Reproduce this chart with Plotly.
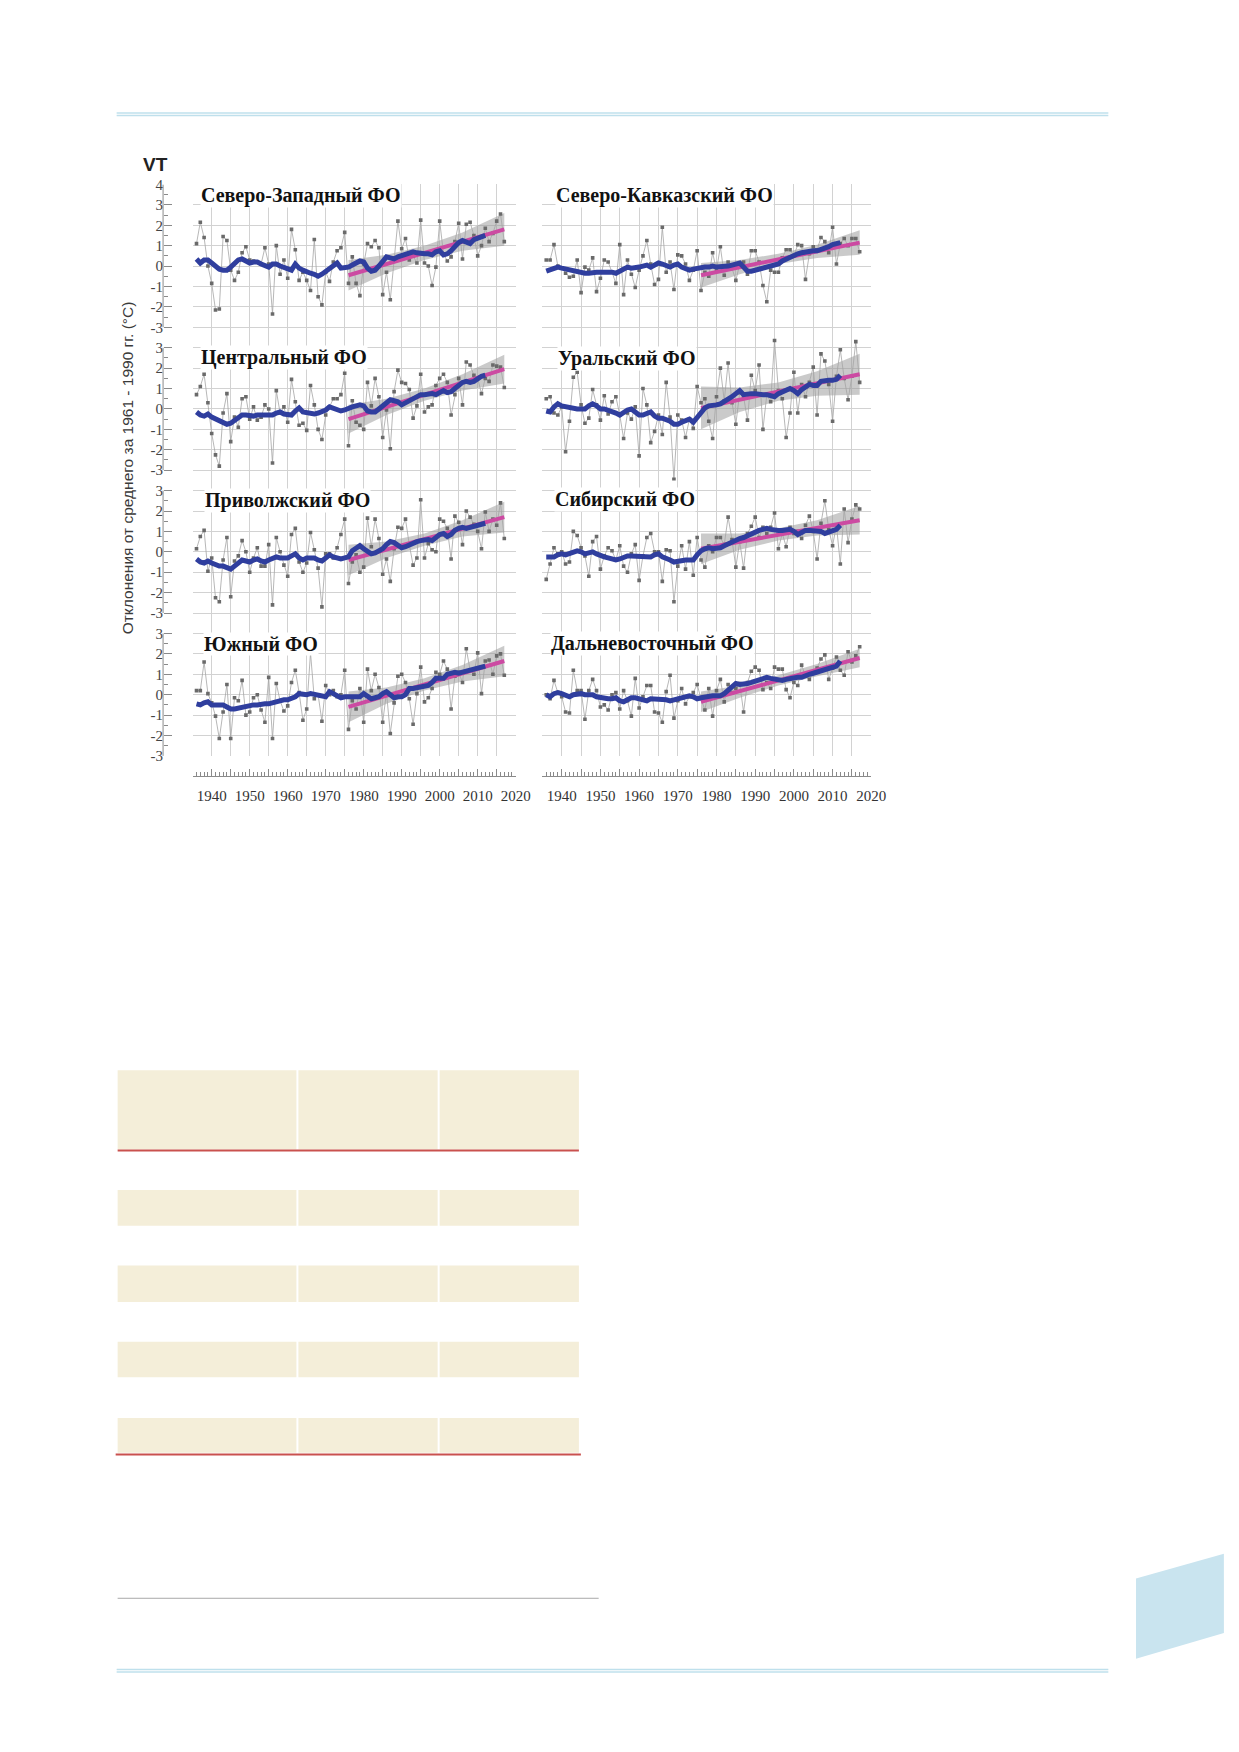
import plotly.graph_objects as go

# the page is 1239x1752; the browser keeps its default 8px body margin,
# so the figure itself is 16px smaller and every page position is shifted by 8
W, H = 1239, 1752
PAD = 8
FW, FH = W - 2 * PAD, H - 2 * PAD

years = list(range(1936, 2018))
smooth_years = list(range(1936, 2013))
trend_years = [1976, 2017]
band_years = [1976, 1986, 1996, 2006, 2017]
decade_ticks = list(range(1935, 2021, 5))
year_ticks = [y for y in range(1935, 2021) if y % 5]

titles = ["Северо-Западный ФО", "Центральный ФО", "Приволжский ФО", "Южный ФО",
          "Северо-Кавказский ФО", "Уральский ФО", "Сибирский ФО", "Дальневосточный ФО"]

# yearly anomalies, smoothed curve, linear trend 1976-2017 and its band
nw_anom = [1.1, 2.15, 1.4, 0.0, -0.85, -2.15, -2.1, 1.45, 1.25, -0.2,
           -0.7, -0.3, 0.65, 0.95, 0.3, 0.25, 0.2, 0.1, 0.9, 0.1,
           -2.35, 1.0, -0.4, 0.3, -0.6, 1.8, 0.8, -0.7, -0.3, -0.7,
           -1.2, 1.3, -1.5, -1.9, -0.3, -0.75, 0.2, 0.75, 0.9, 1.65,
           -0.85, 0.45, -0.85, -1.45, 0.1, 1.1, 0.95, 1.25, 0.9, -1.4,
           -0.3, -1.65, 0.4, 2.2, 0.85, 1.35, 0.3, 0.5, 0.15, 2.25,
           0.15, 0.0, -0.95, -0.05, 2.2, 0.6, 0.25, 0.45, 1.2, 2.1,
           0.35, 2.05, 2.15, 1.5, 0.5, 1.0, 1.85, 1.2, 1.6, 2.2,
           2.55, 1.2]
nw_smooth = [0.35, 0.15, 0.3, 0.3, 0.15, 0.0, -0.15, -0.2, -0.2, -0.05,
             0.15, 0.3, 0.35, 0.25, 0.15, 0.2, 0.2, 0.1, 0.05, -0.05,
             0.1, 0.1, 0.0, -0.05, -0.15, -0.2, 0.1, -0.1, -0.2, -0.3,
             -0.35, -0.4, -0.5, -0.4, -0.25, -0.1, 0.05, 0.15, -0.1, -0.1,
             -0.05, 0.05, 0.15, 0.25, 0.2, -0.1, -0.25, -0.2, 0.0, 0.25,
             0.45, 0.4, 0.35, 0.45, 0.5, 0.55, 0.6, 0.7, 0.65, 0.6,
             0.6, 0.6, 0.55, 0.7, 0.75, 0.55, 0.6, 0.75, 0.95, 1.15,
             1.25, 1.15, 1.1, 1.3, 1.35, 1.4, 1.5]
nw_trend = [-0.45, 1.8]
nw_band_hi = [0.3, 0.55, 1.0, 1.65, 2.6]
nw_band_lo = [-1.2, -0.35, 0.3, 0.75, 1.0]

cen_anom = [0.7, 1.1, 1.7, 0.3, -1.2, -2.25, -2.8, -0.2, 0.75, -1.6,
            -0.4, -0.9, 0.5, 0.6, -0.5, 0.1, -0.55, -0.4, 0.2, 0.0,
            -2.65, 0.9, -0.2, 0.1, -0.65, 1.45, 0.35, -0.8, -0.7, -1.05,
            1.15, 0.2, -1.0, -1.5, -0.3, 0.1, 0.5, 0.5, 0.7, 1.75,
            -1.8, 0.4, -0.65, -0.8, -1.0, 1.3, 0.15, 1.5, 0.6, -1.4,
            -0.05, -1.95, 0.85, 1.9, 1.3, 1.25, 0.95, -0.45, 0.15, 1.7,
            -0.15, 0.1, 0.2, 1.15, 1.5, 1.7, 1.3, -0.3, 0.7, 1.5,
            0.2, 2.3, 2.15, 1.65, 1.5, 0.75, 1.5, 1.35, 2.15, 2.1,
            2.05, 1.05]
cen_smooth = [-0.15, -0.3, -0.35, -0.25, -0.4, -0.5, -0.6, -0.7, -0.75, -0.7,
              -0.55, -0.4, -0.3, -0.3, -0.35, -0.35, -0.3, -0.3, -0.35, -0.35,
              -0.3, -0.2, -0.15, -0.25, -0.3, -0.3, -0.1, 0.05, -0.15, -0.2,
              -0.25, -0.25, -0.2, -0.15, -0.05, 0.1, 0.05, -0.05, -0.1, -0.05,
              0.05, 0.1, 0.15, 0.2, 0.15, -0.1, -0.15, -0.15, 0.0, 0.15,
              0.35, 0.45, 0.4, 0.35, 0.2, 0.3, 0.4, 0.5, 0.6, 0.7,
              0.7, 0.75, 0.75, 0.7, 0.8, 0.9, 0.8, 0.85, 1.0, 1.15,
              1.3, 1.35, 1.3, 1.35, 1.5, 1.6, 1.65]
cen_trend = [-0.5, 1.95]
cen_band_hi = [0.2, 0.5, 1.0, 1.7, 2.65]
cen_band_lo = [-1.2, -0.3, 0.4, 0.9, 1.25]

vol_anom = [0.15, 0.75, 1.05, -0.95, -0.3, -2.25, -2.45, -0.4, 0.7, -2.2,
            -0.45, -0.2, 0.55, 0.0, -1.0, -0.3, 0.2, -0.7, -0.7, 0.35,
            -2.6, 0.7, 0.0, -0.65, -1.2, 0.85, 1.15, -0.5, -1.0, -0.55,
            0.95, 0.1, -0.8, -2.7, -0.1, -0.1, -0.3, 0.2, 0.85, 1.6,
            -1.55, -0.5, -0.15, -1.0, -0.75, 1.65, 0.25, 1.6, 0.65, -1.1,
            -0.35, -1.45, 0.15, 1.2, 1.15, 1.6, 0.35, -0.65, -0.3, 2.55,
            -0.3, 0.4, 0.1, 0.0, 1.6, 1.5, 1.15, -0.35, 1.75, 1.45,
            0.35, 2.0, 1.7, 1.35, 1.0, 0.15, 1.95, 1.0, 1.6, 1.3,
            2.4, 0.65]
vol_smooth = [-0.35, -0.5, -0.55, -0.45, -0.55, -0.65, -0.7, -0.7, -0.8, -0.85,
              -0.7, -0.55, -0.4, -0.45, -0.5, -0.4, -0.35, -0.45, -0.5, -0.4,
              -0.3, -0.25, -0.3, -0.3, -0.3, -0.2, -0.1, -0.3, -0.4, -0.3,
              -0.3, -0.3, -0.4, -0.45, -0.3, -0.15, -0.25, -0.3, -0.35, -0.3,
              -0.25, 0.05, 0.2, 0.3, 0.15, 0.0, -0.1, -0.05, 0.05, 0.15,
              0.35, 0.5, 0.45, 0.35, 0.2, 0.25, 0.35, 0.4, 0.5, 0.55,
              0.6, 0.6, 0.55, 0.7, 0.85, 0.9, 0.75, 0.85, 1.05, 1.15,
              1.2, 1.15, 1.2, 1.25, 1.3, 1.35, 1.4]
vol_trend = [-0.4, 1.7]
vol_band_hi = [0.35, 0.5, 0.9, 1.55, 2.45]
vol_band_lo = [-1.15, -0.3, 0.3, 0.75, 0.95]

sou_anom = [0.2, 0.2, 1.6, 0.05, -0.4, -1.05, -2.15, -0.85, 0.5, -2.15,
            -0.15, -0.3, 0.7, -1.0, -0.85, -0.15, 0.0, -0.75, -1.35, 0.85,
            -2.15, 0.55, -0.3, -0.8, -0.55, 0.6, 1.2, 0.1, -1.25, -0.7,
            2.05, -0.2, 0.0, -1.3, 0.45, 0.0, 0.2, -0.1, 0.0, 1.2,
            -1.7, -0.3, -0.7, 0.3, -1.35, 1.25, 0.2, 1.0, 0.35, -1.35,
            0.1, -1.9, -0.4, 0.9, 1.0, 0.6, -0.2, -1.45, 0.05, 1.35,
            -0.35, -0.15, 0.3, 1.1, 1.0, 1.65, 1.25, -0.7, 0.9, 1.1,
            0.6, 2.25, 1.2, 1.0, 2.05, 0.05, 1.65, 1.7, 1.0, 1.9,
            2.0, 0.95]
sou_smooth = [-0.45, -0.5, -0.4, -0.35, -0.5, -0.5, -0.5, -0.5, -0.6, -0.7,
              -0.7, -0.65, -0.6, -0.55, -0.5, -0.5, -0.5, -0.45, -0.45, -0.45,
              -0.4, -0.3, -0.25, -0.25, -0.25, -0.2, -0.1, 0.05, 0.0, 0.0,
              0.05, 0.0, 0.0, -0.1, -0.1, 0.15, 0.05, -0.1, -0.15, -0.1,
              -0.1, -0.05, -0.05, -0.1, 0.05, -0.1, -0.2, -0.15, -0.1, 0.05,
              0.15, 0.0, -0.15, -0.1, -0.1, 0.0, 0.3, 0.3, 0.35, 0.4,
              0.4, 0.45, 0.6, 0.8, 0.8, 0.8, 1.0, 1.05, 1.1, 1.05,
              1.1, 1.15, 1.15, 1.2, 1.3, 1.35, 1.4]
sou_trend = [-0.6, 1.65]
sou_band_hi = [0.15, 0.35, 0.8, 1.45, 2.4]
sou_band_lo = [-1.35, -0.45, 0.2, 0.65, 0.9]

nc_anom = [0.3, 0.3, 1.05, 0.0, -0.1, -0.35, -0.55, -0.5, 0.3, -1.3,
           -0.05, -0.2, 0.4, -1.25, -0.6, 0.3, 0.2, -0.3, -0.85, 1.05,
           -1.4, 0.3, -0.4, -1.05, -0.2, 0.5, 1.25, 0.1, -0.9, -0.65,
           1.9, -0.3, 0.2, -1.15, 0.55, 0.5, 0.1, -0.7, -0.2, 0.75,
           -1.2, -0.3, -0.5, 0.65, -0.2, 0.95, -0.45, 0.2, -0.1, -0.7,
           0.1, 0.2, -0.4, 0.75, 0.75, 0.2, -0.95, -1.75, -0.2, -0.3,
           -0.3, 0.4, 0.8, 0.8, 0.5, 1.05, 1.0, -0.65, 0.6, 0.95,
           0.8, 1.4, 1.2, 0.65, 1.9, 0.1, 1.1, 1.35, 1.0, 1.35,
           1.35, 0.7]
nc_smooth = [-0.25, -0.2, -0.1, -0.05, -0.1, -0.15, -0.2, -0.2, -0.25, -0.35,
             -0.35, -0.35, -0.3, -0.3, -0.3, -0.3, -0.25, -0.3, -0.35, -0.25,
             -0.15, -0.05, -0.1, -0.1, -0.05, 0.0, 0.05, -0.05, 0.05, 0.15,
             0.1, 0.05, -0.05, 0.05, 0.1, -0.05, -0.15, -0.2, -0.15, -0.1,
             -0.05, -0.05, -0.05, 0.0, -0.05, -0.05, 0.0, 0.0, 0.05, 0.1,
             0.15, -0.05, -0.25, -0.25, -0.2, -0.15, -0.1, -0.05, 0.0, 0.05,
             0.1, 0.25, 0.35, 0.45, 0.55, 0.6, 0.65, 0.7, 0.75, 0.75,
             0.75, 0.8, 0.9, 0.95, 1.05, 1.1, 1.15]
nc_trend = [-0.45, 1.15]
nc_band_hi = [0.15, 0.3, 0.6, 1.05, 1.75]
nc_band_lo = [-1.05, -0.4, 0.1, 0.4, 0.55]

ur_anom = [0.5, 0.6, -0.2, -0.3, 0.1, -2.1, -0.6, 1.55, 1.8, 0.2,
           -0.7, -0.45, 0.95, 0.2, -0.55, 0.65, -0.25, 0.35, 0.6, -0.3,
           -1.45, -0.2, -0.5, 0.1, -2.3, 1.0, 0.2, -1.65, -1.1, -0.3,
           -1.25, 1.3, -0.4, -3.45, -0.3, -0.55, -1.4, -0.5, -0.95, 1.1,
           0.3, 0.5, -0.6, -1.45, 0.6, 2.0, 0.4, 2.25, 0.3, -0.75,
           0.8, 0.6, -0.55, 1.65, 0.9, 2.15, -1.0, 0.7, 0.35, 3.35,
           0.9, 0.5, -1.4, -0.2, 1.8, -0.2, 1.2, 0.6, 1.3, 2.05,
           -0.3, 2.7, 2.35, 1.2, -0.6, 1.6, 2.9, 1.5, 0.45, 1.6,
           3.3, 1.3]
ur_smooth = [-0.1, -0.15, 0.1, 0.25, 0.15, 0.1, 0.05, 0.05, 0.0, 0.0,
             0.0, 0.15, 0.25, 0.15, 0.0, 0.0, -0.05, -0.1, -0.2, -0.3,
             -0.15, -0.05, 0.0, -0.15, -0.3, -0.3, -0.2, -0.15, -0.35, -0.45,
             -0.45, -0.5, -0.6, -0.75, -0.75, -0.65, -0.55, -0.5, -0.65, -0.4,
             -0.1, 0.05, 0.15, 0.15, 0.2, 0.25, 0.35, 0.45, 0.6, 0.75,
             0.9, 0.7, 0.75, 0.75, 0.75, 0.7, 0.7, 0.7, 0.65, 0.6,
             0.75, 0.85, 0.95, 1.0, 0.9, 0.75, 0.95, 1.1, 1.2, 1.15,
             1.15, 1.35, 1.4, 1.4, 1.4, 1.45, 1.65]
ur_trend = [0.05, 1.7]
ur_band_hi = [1.1, 1.05, 1.3, 1.85, 2.7]
ur_band_lo = [-1.0, -0.15, 0.4, 0.65, 0.7]

sib_anom = [-1.35, -0.6, 0.2, -0.1, 0.0, -0.6, -0.5, 1.0, 0.8, 0.2,
            -0.2, -1.2, 0.5, 0.75, -0.85, -0.2, 0.2, 0.05, -0.4, 0.3,
            -0.7, -1.0, -0.1, 0.35, -1.4, -0.2, 0.7, 0.9, 0.0, 0.0,
            -1.45, 0.1, 0.05, -2.45, -0.7, 0.3, -0.85, 0.5, -1.15, 0.7,
            -0.4, -0.75, 0.3, 0.0, 0.7, 0.7, 0.35, 1.7, 0.6, -0.75,
            0.5, -0.8, 0.9, 1.25, 1.7, 0.7, 1.2, 0.9, 1.2, 1.9,
            0.15, 0.9, 0.25, 1.2, 0.9, 1.0, 0.65, 1.3, 1.75, 1.0,
            -0.35, 1.4, 2.5, 1.1, 0.3, 1.3, -0.6, 2.1, 0.45, 1.6,
            2.3, 2.1]
sib_smooth = [-0.25, -0.25, -0.25, -0.15, -0.1, -0.15, -0.1, 0.0, 0.05, 0.0,
              -0.1, -0.05, 0.0, -0.1, -0.2, -0.25, -0.3, -0.35, -0.4, -0.35,
              -0.25, -0.2, -0.2, -0.2, -0.2, -0.25, -0.25, -0.25, -0.15, -0.1,
              -0.25, -0.3, -0.4, -0.5, -0.45, -0.45, -0.4, -0.4, -0.4, -0.15,
              0.05, 0.15, 0.2, 0.15, 0.15, 0.2, 0.3, 0.4, 0.45, 0.6,
              0.65, 0.7, 0.8, 0.85, 0.95, 1.05, 1.1, 1.15, 1.1, 1.05,
              1.05, 1.05, 1.05, 1.1, 1.0, 0.85, 0.95, 1.05, 1.05, 1.05,
              1.05, 1.0, 0.9, 0.95, 1.05, 1.1, 1.3]
sib_trend = [0.15, 1.55]
sib_band_hi = [0.9, 0.9, 1.15, 1.55, 2.25]
sib_band_lo = [-0.6, 0.1, 0.55, 0.8, 0.85]

fe_anom = [0.0, -0.2, 0.7, 0.1, -0.1, -0.85, -0.9, 1.2, 0.2, 0.2,
           -1.2, 0.2, 0.75, 0.2, -0.6, -0.5, -0.75, 0.0, 0.1, -0.7,
           0.2, -0.3, -1.05, 0.8, -0.65, -0.1, 0.45, 0.45, -0.85, -0.9,
           -1.35, 0.15, 0.95, -1.15, -0.3, 0.3, -0.45, -0.1, 0.1, 0.5,
           -0.2, -0.75, 0.3, -1.05, 0.2, 0.75, -0.35, 0.5, 0.1, 0.3,
           0.55, -0.85, 0.6, 1.15, 1.35, 1.2, 0.25, 0.6, 0.3, 1.35,
           1.25, 1.25, 0.25, -0.15, 0.6, 0.45, 1.45, 0.9, 0.75, 1.1,
           1.3, 1.75, 1.95, 0.75, 1.3, 1.85, 1.2, 0.95, 2.1, 1.6,
           1.9, 2.35]
fe_smooth = [0.0, -0.1, 0.05, 0.1, 0.05, 0.0, -0.1, 0.0, 0.05, 0.05,
             0.0, 0.0, 0.0, -0.1, -0.15, -0.2, -0.2, -0.2, -0.15, -0.3,
             -0.35, -0.25, -0.15, -0.15, -0.2, -0.3, -0.3, -0.2, -0.2, -0.25,
             -0.25, -0.25, -0.3, -0.25, -0.2, -0.15, -0.1, -0.05, -0.1, -0.2,
             -0.15, -0.1, -0.05, -0.05, -0.05, -0.05, 0.05, 0.2, 0.4, 0.55,
             0.5, 0.5, 0.55, 0.6, 0.65, 0.75, 0.8, 0.85, 0.8, 0.75,
             0.7, 0.7, 0.75, 0.8, 0.8, 0.85, 0.85, 0.95, 1.0, 1.05,
             1.1, 1.2, 1.25, 1.3, 1.3, 1.4, 1.65]
fe_trend = [-0.35, 1.8]
fe_band_hi = [0.15, 0.45, 0.95, 1.5, 2.25]
fe_band_lo = [-0.85, -0.15, 0.45, 0.9, 1.35]

panels = [
    (nw_anom, nw_smooth, nw_trend, nw_band_hi, nw_band_lo),
    (cen_anom, cen_smooth, cen_trend, cen_band_hi, cen_band_lo),
    (vol_anom, vol_smooth, vol_trend, vol_band_hi, vol_band_lo),
    (sou_anom, sou_smooth, sou_trend, sou_band_hi, sou_band_lo),
    (nc_anom, nc_smooth, nc_trend, nc_band_hi, nc_band_lo),
    (ur_anom, ur_smooth, ur_trend, ur_band_hi, ur_band_lo),
    (sib_anom, sib_smooth, sib_trend, sib_band_hi, sib_band_lo),
    (fe_anom, fe_smooth, fe_trend, fe_band_hi, fe_band_lo),
]


def px(x):
    return (x - PAD) / FW


def py(y):
    return 1 - (y - PAD) / FH


# layout in page pixels
col_px = [(195, 522), (549, 882)]
row_px = [(178, 332.5), (332.5, 476.7), (476.7, 620.9), (620.9, 754.8)]
row_range = [[-3.5, 4], [-3.5, 3.5], [-3.5, 3.5], [-3, 3.5]]
row_top = [4, 3, 3, 3]
title_x = [202, 202, 206, 205, 562, 564, 561, 557]
title_y = [3.47, 2.5, 2.5, 2.5, 3.45, 2.45, 2.55, 2.5]

GRID = "#d2d2d2"
AX = "#8a8a8a"
SERIF = "Liberation Serif"

fig = go.Figure()
layout = {}
shapes = []
annotations = []

for k, (anom, smooth, trend, hi, lo) in enumerate(panels, start=1):
    col, row = divmod(k - 1, 4)
    xs = "x" if k == 1 else f"x{k}"
    ys = "y" if k == 1 else f"y{k}"
    xname = "xaxis" if k == 1 else f"xaxis{k}"
    yname = "yaxis" if k == 1 else f"yaxis{k}"

    fig.add_trace(go.Scatter(
        x=band_years + band_years[::-1], y=hi + lo[::-1],
        fill="toself", fillcolor="rgba(150,150,150,0.5)", mode="lines",
        line=dict(width=0), hoverinfo="skip", xaxis=xs, yaxis=ys))
    fig.add_trace(go.Scatter(
        x=years, y=anom, mode="lines+markers",
        line=dict(color="#a5a5a5", width=0.8),
        marker=dict(symbol="square", size=3.6, color="#6a6a6a"),
        xaxis=xs, yaxis=ys))
    fig.add_trace(go.Scatter(
        x=trend_years, y=trend, mode="lines",
        line=dict(color="#cc4aa2", width=4), xaxis=xs, yaxis=ys))
    fig.add_trace(go.Scatter(
        x=smooth_years, y=smooth, mode="lines",
        line=dict(color="#2f3e9e", width=5), xaxis=xs, yaxis=ys))

    x0, x1 = col_px[col]
    t, b = row_px[row]
    top = row_top[row]
    majors = list(range(-3, top + 1))
    halves = [v + 0.5 for v in range(-3, top)]

    xa = dict(domain=[px(x0), px(x1)], range=[1935, 2020], anchor=ys,
              showgrid=True, gridcolor=GRID, gridwidth=1, zeroline=False,
              tickmode="array", tickvals=decade_ticks, showticklabels=False,
              ticks="", showline=False, fixedrange=True)
    if row == 3:
        xa.update(anchor="free", position=py(775), showticklabels=True,
                  ticktext=[str(v) if v % 10 == 0 else "" for v in decade_ticks],
                  ticks="inside", ticklen=7, tickcolor=AX, tickwidth=1,
                  showline=True, linecolor=AX, linewidth=1,
                  ticklabelstandoff=6,
                  tickfont=dict(family=SERIF, size=15, color="#333333"),
                  minor=dict(tickvals=year_ticks, ticks="inside", ticklen=3.5,
                             tickcolor=AX, tickwidth=1, showgrid=False))
    ya = dict(domain=[py(b), py(t)], range=row_range[row], anchor=xs,
              showgrid=True, gridcolor=GRID, gridwidth=1, zeroline=False,
              tickmode="array", tickvals=majors, showticklabels=False,
              ticks="", showline=False, fixedrange=True)
    if col == 0:
        ya.update(anchor="free", position=px(165), ticks="inside", ticklen=8,
                  tickcolor=AX, tickwidth=1, showticklabels=True,
                  ticktext=[str(v) for v in majors],
                  tickfont=dict(family=SERIF, size=15, color="#444444"),
                  minor=dict(tickvals=halves, ticks="inside", ticklen=4,
                             tickcolor=AX, tickwidth=1, showgrid=False))
        shapes.append(dict(type="line", xref="paper", yref=ys,
                           x0=px(165), x1=px(165), y0=-3, y1=top,
                           line=dict(color=AX, width=1)))
    layout[xname] = xa
    layout[yname] = ya

    annotations.append(dict(
        text="<b>" + titles[k - 1] + "</b>", xref="paper", yref=ys,
        x=px(title_x[k - 1]), y=title_y[k - 1], xanchor="left", yanchor="middle",
        showarrow=False, bgcolor="white", borderpad=0,
        font=dict(family=SERIF, size=20, color="#111111")))

annotations.append(dict(
    text="<b>VT</b>", xref="paper", yref="paper", x=px(157), y=py(158),
    xanchor="center", yanchor="middle", showarrow=False,
    font=dict(family="Liberation Sans", size=19, color="#222222")))
annotations.append(dict(
    text="Отклонения от среднего за 1961 - 1990 гг. (°C)", textangle=-90,
    xref="paper", yref="paper", x=px(129), y=py(464),
    xanchor="center", yanchor="middle", showarrow=False,
    font=dict(family="Liberation Sans", size=15.5, color="#3a3a3a")))


def rect(x0, y0, x1, y1, color):
    return dict(type="rect", xref="paper", yref="paper", x0=px(x0), x1=px(x1),
                y0=py(y1), y1=py(y0), fillcolor=color, line=dict(width=0),
                layer="below")


def hline(x0, x1, y, color, width):
    return dict(type="line", xref="paper", yref="paper", x0=px(x0), x1=px(x1),
                y0=py(y), y1=py(y), line=dict(color=color, width=width))


# page decorations: blue rules, empty table, footnote rule, page tab
shapes.append(hline(118, 1122, 106, "#bfe0ec", 1.5))
shapes.append(hline(118, 1122, 108.5, "#bfe0ec", 1.5))
shapes.append(hline(118, 1122, 1677, "#bfe0ec", 1.5))
shapes.append(hline(118, 1122, 1679.5, "#bfe0ec", 1.5))

BEIGE = "#f4eed9"
cols = [(119, 300), (302, 443), (445, 586)]
for cx0, cx1 in cols:
    shapes.append(rect(cx0, 1072, cx1, 1152, BEIGE))
    for ry0, ry1 in [(1193, 1229), (1269, 1306), (1346, 1382), (1423, 1458)]:
        shapes.append(rect(cx0, ry0, cx1, ry1, BEIGE))
shapes.append(hline(119, 586, 1153, "#c9514e", 2))
shapes.append(hline(117, 588, 1460, "#c9514e", 2))
shapes.append(hline(119, 606, 1605, "#a8a8a8", 1))

shapes.append(dict(type="path", xref="paper", yref="paper",
                   path=f"M {px(1150)} {py(1585)} L {px(1239)} {py(1560)} "
                        f"L {px(1239)} {py(1640)} L {px(1150)} {py(1666)} Z",
                   fillcolor="#c9e4ef", line=dict(width=0)))

fig.update_layout(
    width=FW, height=FH, margin=dict(l=0, r=0, t=0, b=0),
    paper_bgcolor="white", plot_bgcolor="white", showlegend=False,
    hovermode=False, shapes=shapes, annotations=annotations, **layout)

fig.write_html("out.html", config={"displayModeBar": False})
